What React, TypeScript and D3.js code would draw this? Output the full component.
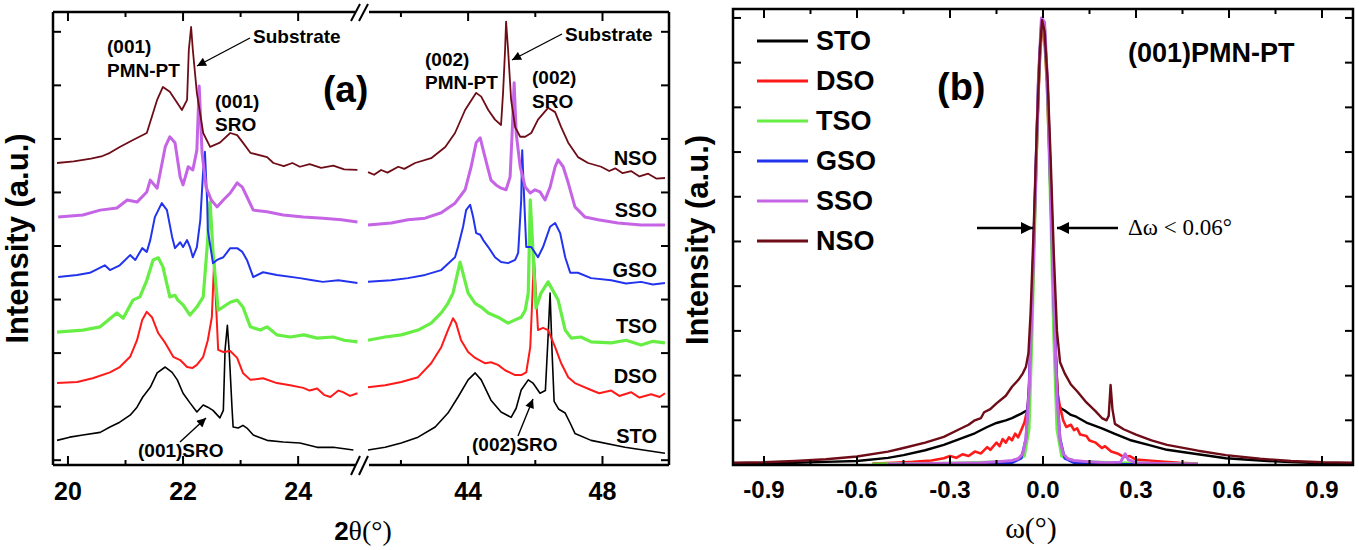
import React from "react";
import * as d3 from "d3";

type Pt = [number, number];

// sample order as in the legend
const samples = ["STO", "DSO", "TSO", "GSO", "SSO", "NSO"];
const colors: Record<string, string> = {
  STO: "#000000",
  DSO: "#ff1a1a",
  TSO: "#66ee44",
  GSO: "#2233ee",
  SSO: "#c565e6",
  NSO: "#6e0d17",
};
const widthsA: Record<string, number> = { STO: 1.6, DSO: 2, TSO: 3.2, GSO: 2, SSO: 3, NSO: 1.8 };
const widthsB: Record<string, number> = { STO: 2.4, DSO: 2.6, TSO: 3, GSO: 2.6, SSO: 3, NSO: 2.4 };

// ---- panel (a): 2theta scans, stacked, (001) range ----
const stoLow: Pt[] = [[19.81,0.37],[20.03,0.43],[20.26,0.47],[20.56,0.52],[20.73,0.62],[20.90,0.71],[21.08,0.84],[21.20,0.99],[21.30,1.18],[21.43,1.36],[21.55,1.63],[21.69,1.74],[21.81,1.64],[21.90,1.50],[22.00,1.25],[22.12,1.07],[22.24,0.90],[22.35,1.03],[22.43,0.99],[22.52,0.93],[22.64,0.79],[22.70,0.93],[22.73,2.06],[22.77,2.52],[22.80,2.06],[22.85,0.99],[22.87,0.62],[22.96,0.60],[23.04,0.65],[23.11,0.60],[23.22,0.47],[23.46,0.37],[23.74,0.34],[24.03,0.32],[24.33,0.24],[24.61,0.24],[24.96,0.19]];
const dsoLow: Pt[] = [[19.81,1.44],[20.16,1.46],[20.43,1.53],[20.73,1.64],[20.90,1.74],[21.08,1.93],[21.20,2.24],[21.29,2.62],[21.37,2.77],[21.46,2.67],[21.57,2.37],[21.69,2.19],[21.83,1.93],[21.95,1.87],[22.07,1.74],[22.16,1.72],[22.24,1.78],[22.35,1.93],[22.43,2.24],[22.50,2.67],[22.54,3.70],[22.57,2.99],[22.61,2.06],[22.70,2.02],[22.82,2.04],[22.94,1.91],[23.04,1.63],[23.17,1.50],[23.39,1.53],[23.63,1.44],[23.86,1.40],[24.09,1.35],[24.20,1.30],[24.33,1.34],[24.45,1.22],[24.56,1.18],[24.70,1.30],[24.78,1.27],[24.90,1.20],[25.03,1.25]];
const tsoLow: Pt[] = [[19.81,2.39],[20.26,2.43],[20.56,2.49],[20.85,2.75],[20.96,2.65],[21.13,2.99],[21.25,3.05],[21.37,3.36],[21.48,3.74],[21.57,3.78],[21.65,3.61],[21.77,3.05],[21.86,3.08],[21.91,2.99],[22.00,2.90],[22.12,2.71],[22.24,2.86],[22.35,3.05],[22.42,4.0],[22.47,4.82],[22.52,3.9],[22.61,2.80],[22.82,2.95],[22.94,2.99],[23.04,2.86],[23.17,2.49],[23.34,2.43],[23.46,2.49],[23.63,2.34],[23.86,2.30],[24.10,2.34],[24.33,2.28],[24.61,2.30],[24.80,2.24],[25.03,2.21]];
const gsoLow: Pt[] = [[19.83,3.42],[20.16,3.46],[20.38,3.50],[20.64,3.64],[20.73,3.55],[20.90,3.64],[21.08,3.83],[21.17,3.74],[21.29,3.96],[21.37,3.89],[21.43,4.11],[21.51,4.54],[21.63,4.80],[21.72,4.67],[21.81,4.17],[21.86,3.96],[21.95,4.07],[22.00,3.98],[22.07,4.11],[22.12,3.98],[22.17,3.79],[22.24,3.98],[22.30,4.49],[22.35,5.42],[22.38,5.76],[22.42,4.80],[22.43,4.30],[22.52,3.68],[22.59,3.74],[22.70,3.79],[22.82,3.96],[22.94,3.96],[23.03,3.89],[23.11,3.74],[23.22,3.42],[23.39,3.51],[23.63,3.46],[24.03,3.40],[24.25,3.36],[24.43,3.33],[24.70,3.36],[25.03,3.31]];
const ssoLow: Pt[] = [[19.83,4.54],[20.26,4.58],[20.56,4.67],[20.85,4.71],[21.03,4.86],[21.20,4.82],[21.37,5.01],[21.43,5.23],[21.55,5.08],[21.69,5.85],[21.77,6.04],[21.86,5.93],[21.95,5.29],[22.00,5.14],[22.09,5.48],[22.17,5.42],[22.24,5.79],[22.28,6.99],[22.33,5.74],[22.40,5.10],[22.49,4.86],[22.59,4.73],[22.70,4.86],[22.82,4.99],[22.94,5.18],[23.03,5.10],[23.11,4.92],[23.22,4.67],[23.46,4.64],[23.74,4.58],[24.09,4.54],[24.43,4.52],[24.75,4.49],[25.03,4.45]];
const nsoLow: Pt[] = [[19.81,5.55],[20.10,5.58],[20.40,5.63],[20.60,5.68],[20.73,5.74],[20.90,5.85],[21.13,5.98],[21.37,6.11],[21.55,6.73],[21.65,6.97],[21.77,6.88],[21.90,6.67],[21.98,6.54],[22.07,6.73],[22.10,7.66],[22.14,8.09],[22.17,7.66],[22.24,6.86],[22.35,6.11],[22.47,5.85],[22.64,5.93],[22.82,6.11],[22.94,6.07],[23.04,5.93],[23.17,5.74],[23.46,5.66],[23.57,5.55],[23.75,5.49],[23.90,5.55],[24.03,5.48],[24.20,5.53],[24.40,5.46],[24.61,5.50],[24.80,5.43],[25.03,5.42]];

// ---- panel (a): (002) range ----
const stoHigh: Pt[] = [[41.02,0.19],[41.53,0.24],[42.01,0.32],[42.51,0.43],[43.02,0.62],[43.40,0.88],[43.70,1.18],[44.00,1.50],[44.21,1.63],[44.39,1.50],[44.68,1.12],[44.98,0.90],[45.28,0.80],[45.43,0.97],[45.58,1.31],[45.79,1.50],[45.93,1.44],[46.14,1.25],[46.30,1.30],[46.38,2.30],[46.44,3.12],[46.50,2.00],[46.56,1.10],[46.70,0.95],[46.89,0.88],[47.04,0.69],[47.18,0.50],[47.66,0.37],[48.67,0.24],[49.86,0.13]];
const dsoHigh: Pt[] = [[41.02,1.36],[41.53,1.40],[42.01,1.46],[42.51,1.55],[42.90,1.81],[43.20,2.11],[43.40,2.43],[43.55,2.65],[43.64,2.56],[43.79,2.24],[44.00,2.02],[44.21,1.91],[44.51,1.81],[44.68,1.83],[44.89,1.78],[45.10,1.68],[45.40,1.59],[45.58,1.59],[45.73,1.64],[45.85,2.11],[45.90,2.86],[45.96,3.78],[46.08,2.43],[46.23,2.47],[46.38,2.43],[46.59,2.11],[46.77,1.81],[46.98,1.55],[47.18,1.44],[47.66,1.31],[47.90,1.25],[48.26,1.30],[48.50,1.20],[48.85,1.27],[49.10,1.17],[49.45,1.23],[49.70,1.18],[49.86,1.25]];
const tsoHigh: Pt[] = [[41.02,2.24],[41.53,2.30],[42.01,2.34],[42.51,2.43],[42.90,2.56],[43.20,2.75],[43.40,2.93],[43.55,3.12],[43.76,3.70],[44.00,3.12],[44.21,2.93],[44.39,2.86],[44.60,2.75],[44.89,2.67],[45.19,2.56],[45.40,2.62],[45.58,2.67],[45.70,2.80],[45.79,3.12],[45.85,4.86],[46.02,2.84],[46.17,3.12],[46.38,3.33],[46.68,2.99],[46.89,2.43],[47.07,2.28],[47.36,2.30],[47.66,2.21],[48.26,2.19],[48.70,2.24],[49.15,2.15],[49.50,2.22],[49.86,2.19]];
const gsoHigh: Pt[] = [[41.02,3.33],[41.71,3.36],[42.21,3.40],[42.72,3.46],[43.20,3.55],[43.61,3.79],[43.70,3.98],[43.85,4.36],[43.94,4.67],[44.06,4.77],[44.15,4.54],[44.24,4.24],[44.36,4.21],[44.45,4.11],[44.60,3.98],[44.80,3.79],[44.98,3.70],[45.19,3.68],[45.40,3.74],[45.49,3.87],[45.58,4.86],[45.61,5.79],[45.67,4.86],[45.73,3.98],[45.88,3.98],[46.08,3.79],[46.23,3.98],[46.44,4.36],[46.59,4.43],[46.74,4.24],[46.89,3.79],[47.04,3.50],[47.27,3.50],[47.66,3.40],[48.26,3.36],[48.70,3.30],[49.15,3.33],[49.50,3.28],[49.86,3.31]];
const ssoHigh: Pt[] = [[41.02,4.39],[41.71,4.43],[42.21,4.49],[42.72,4.52],[43.20,4.62],[43.61,4.80],[43.91,5.05],[44.09,5.48],[44.24,5.93],[44.36,6.02],[44.45,5.79],[44.60,5.42],[44.68,5.23],[44.83,5.14],[44.98,5.08],[45.13,5.05],[45.25,5.29],[45.31,6.11],[45.37,7.05],[45.43,6.11],[45.55,5.48],[45.70,5.10],[45.85,4.99],[45.99,5.05],[46.14,5.01],[46.29,4.86],[46.44,5.10],[46.59,5.48],[46.68,5.61],[46.83,5.48],[46.98,5.18],[47.18,4.73],[47.48,4.54],[47.87,4.49],[48.46,4.43],[49.15,4.39],[49.86,4.39]];
const nsoHigh: Pt[] = [[41.02,5.38],[41.20,5.33],[41.41,5.42],[41.60,5.37],[41.92,5.48],[42.10,5.44],[42.42,5.55],[42.90,5.64],[43.32,5.85],[43.61,6.11],[43.91,6.54],[44.24,6.86],[44.39,6.79],[44.60,6.54],[44.80,6.36],[44.98,6.26],[45.04,6.86],[45.10,7.66],[45.13,8.19],[45.19,7.66],[45.28,6.73],[45.40,6.22],[45.55,6.04],[45.70,6.04],[45.88,6.11],[46.08,6.36],[46.38,6.58],[46.59,6.50],[46.77,6.22],[46.98,5.93],[47.27,5.66],[47.57,5.55],[47.96,5.48],[48.20,5.40],[48.38,5.45],[48.60,5.36],[48.85,5.40],[49.10,5.30],[49.36,5.35],[49.60,5.26],[49.86,5.27]];

const lowScans: Record<string, Pt[]> = { STO: stoLow, DSO: dsoLow, TSO: tsoLow, GSO: gsoLow, SSO: ssoLow, NSO: nsoLow };
const highScans: Record<string, Pt[]> = { STO: stoHigh, DSO: dsoHigh, TSO: tsoHigh, GSO: gsoHigh, SSO: ssoHigh, NSO: nsoHigh };
// height (same units) at which each sample name sits, at the right edge
const labelLevel: Record<string, number> = { STO: 0.32, DSO: 1.44, TSO: 2.37, GSO: 3.42, SSO: 4.54, NSO: 5.51 };

// ---- panel (b): rocking curves ----
const stoRock: Pt[] = [[-1.0,0.02],[-0.9,0.03],[-0.8,0.05],[-0.7,0.07],[-0.6,0.09],[-0.5,0.16],[-0.45,0.22],[-0.38,0.33],[-0.32,0.45],[-0.27,0.58],[-0.22,0.71],[-0.18,0.85],[-0.15,0.94],[-0.12,1.0],[-0.1,1.05],[-0.07,1.15],[-0.05,1.23],[-0.045,1.5],[-0.04,2.5],[-0.03,4.8],[-0.02,7.2],[-0.01,9.2],[-0.003,9.8],[0.005,9.6],[0.015,8.4],[0.025,6.4],[0.035,4.2],[0.043,2.2],[0.05,1.3],[0.07,1.22],[0.09,1.12],[0.107,1.08],[0.14,0.95],[0.19,0.82],[0.23,0.7],[0.28,0.56],[0.34,0.45],[0.4,0.34],[0.5,0.24],[0.59,0.15],[0.7,0.1],[0.78,0.07],[0.9,0.04],[1.0,0.03]];
const dsoRock: Pt[] = [[-0.55,0.03],[-0.48,0.05],[-0.42,0.07],[-0.36,0.1],[-0.32,0.15],[-0.3,0.2],[-0.28,0.16],[-0.26,0.24],[-0.24,0.2],[-0.22,0.3],[-0.2,0.26],[-0.18,0.4],[-0.17,0.34],[-0.15,0.5],[-0.14,0.42],[-0.13,0.58],[-0.12,0.5],[-0.11,0.62],[-0.1,0.55],[-0.09,0.7],[-0.08,0.62],[-0.07,0.78],[-0.06,0.95],[-0.05,1.25],[-0.045,1.7],[-0.04,2.6],[-0.03,4.8],[-0.02,7.1],[-0.012,8.8],[-0.004,9.75],[0.004,9.6],[0.012,8.6],[0.02,7.0],[0.03,4.8],[0.04,2.6],[0.047,1.6],[0.055,1.3],[0.065,1.0],[0.075,0.85],[0.09,0.9],[0.1,0.78],[0.11,0.82],[0.12,0.68],[0.14,0.65],[0.15,0.55],[0.17,0.5],[0.19,0.38],[0.2,0.42],[0.22,0.3],[0.24,0.26],[0.26,0.18],[0.28,0.2],[0.3,0.12],[0.34,0.1],[0.38,0.08],[0.44,0.05],[0.5,0.03]];
const tsoRock: Pt[] = [[-0.55,0.02],[-0.5,0.03],[-0.3,0.04],[-0.1,0.08],[-0.06,0.2],[-0.045,0.8],[-0.035,3.0],[-0.025,5.8],[-0.015,8.5],[-0.005,9.9],[0.005,9.8],[0.015,8.3],[0.025,5.6],[0.035,2.8],[0.045,0.8],[0.06,0.2],[0.1,0.08],[0.3,0.04],[0.5,0.02]];
const gsoRock: Pt[] = [[-0.45,0.01],[-0.2,0.02],[-0.1,0.05],[-0.07,0.15],[-0.055,0.6],[-0.045,1.8],[-0.035,3.8],[-0.025,6.2],[-0.015,8.6],[-0.005,9.9],[0.005,9.8],[0.015,8.4],[0.025,6.0],[0.035,3.6],[0.045,1.7],[0.055,0.6],[0.07,0.15],[0.1,0.05],[0.2,0.02],[0.5,0.01]];
const ssoRock: Pt[] = [[-0.5,0.02],[-0.4,0.03],[-0.3,0.04],[-0.2,0.05],[-0.15,0.07],[-0.1,0.1],[-0.08,0.14],[-0.065,0.25],[-0.055,0.6],[-0.045,1.6],[-0.035,3.6],[-0.025,6.0],[-0.015,8.6],[-0.005,10.0],[0.005,9.9],[0.015,8.5],[0.025,6.0],[0.035,3.6],[0.045,1.5],[0.055,0.55],[0.065,0.25],[0.08,0.14],[0.1,0.1],[0.15,0.07],[0.2,0.05],[0.25,0.06],[0.265,0.25],[0.275,0.12],[0.3,0.05],[0.4,0.03],[0.5,0.02]];
const nsoRock: Pt[] = [[-1.0,0.05],[-0.9,0.06],[-0.8,0.09],[-0.7,0.13],[-0.6,0.19],[-0.5,0.3],[-0.45,0.38],[-0.38,0.5],[-0.32,0.63],[-0.27,0.8],[-0.24,0.9],[-0.22,1.0],[-0.2,1.05],[-0.19,1.18],[-0.17,1.25],[-0.15,1.38],[-0.12,1.55],[-0.1,1.75],[-0.08,1.9],[-0.065,2.05],[-0.055,2.2],[-0.047,2.5],[-0.04,3.4],[-0.03,5.3],[-0.02,7.5],[-0.01,9.3],[-0.003,9.95],[0.005,9.7],[0.015,8.6],[0.025,6.8],[0.035,4.7],[0.045,3.0],[0.055,2.3],[0.07,2.05],[0.09,1.8],[0.11,1.65],[0.14,1.4],[0.17,1.2],[0.19,1.05],[0.205,1.0],[0.212,1.1],[0.218,1.79],[0.224,1.25],[0.232,0.92],[0.26,0.8],[0.3,0.68],[0.35,0.55],[0.4,0.45],[0.5,0.32],[0.59,0.22],[0.7,0.14],[0.8,0.09],[0.9,0.06],[1.0,0.05]];
const rocking: Record<string, Pt[]> = { STO: stoRock, DSO: dsoRock, TSO: tsoRock, GSO: gsoRock, SSO: ssoRock, NSO: nsoRock };

// tick values
const lowMajor = [20, 22, 24];
const lowMinor = [21, 23];
const highMajor = [44, 48];
const highMinor = [42, 46];
const yTicksA = [0, 1, 2, 3, 4, 5, 6, 7, 8];
const omegaMajor = [-0.9, -0.6, -0.3, 0, 0.3, 0.6, 0.9];
const omegaMinor = [-0.75, -0.45, -0.15, 0.15, 0.45, 0.75];
const yTicksB = [0, 1, 2, 3, 4, 5, 6, 7, 8, 9, 10];

const SANS = "'Liberation Sans', Arial, Helvetica, sans-serif";
const SERIF = "'Liberation Serif', 'Times New Roman', serif";

export default function App() {
  // panel a geometry
  const aL = 53, aR = 669, aT = 12, aB = 465, brk0 = 355, brk1 = 369;
  const xLow = d3.scaleLinear().domain([19.74, 25.04]).range([aL, 358]);
  const xHigh = d3.scaleLinear().domain([40.96, 49.98]).range([366, aR]);
  const yA = d3.scaleLinear().domain([-0.09, 8.37]).range([aB, aT]);

  // panel b geometry
  const bL = 733, bR = 1353, bT = 9, bB = 465;
  const xB = d3.scaleLinear().domain([-1, 1]).range([bL, bR]);
  const yB = d3.scaleLinear().domain([0, 10.2]).range([bB, bT]);

  const lineLow = d3.line<Pt>().x((d) => xLow(d[0])).y((d) => yA(d[1]));
  const lineHigh = d3.line<Pt>().x((d) => xHigh(d[0])).y((d) => yA(d[1]));
  const lineB = d3.line<Pt>().x((d) => xB(d[0])).y((d) => yB(d[1]));

  const tickStyle = { stroke: "#000", strokeWidth: 2 };
  const fs = 19;

  return (
    <svg width={1359} height={550} style={{ position: "absolute", left: 0, top: 0, background: "#fff" }}>
      <defs>
        <marker id="ah" viewBox="0 0 10 10" refX="10" refY="5" markerWidth="11" markerHeight="9" markerUnits="userSpaceOnUse" orient="auto">
          <path d="M0,0 L10,5 L0,10 z" fill="#000" />
        </marker>
        <marker id="ahBig" viewBox="0 0 10 10" refX="10" refY="5" markerWidth="15" markerHeight="12" markerUnits="userSpaceOnUse" orient="auto">
          <path d="M0,0 L10,5 L0,10 z" fill="#000" />
        </marker>
      </defs>

      {/* ================= panel (a) ================= */}
      <g>
        {samples.map((s) => (
          <g key={"a" + s} fill="none" stroke={colors[s]} strokeWidth={widthsA[s]} strokeLinejoin="round">
            <path d={lineLow(lowScans[s]) || ""} />
            <path d={lineHigh(highScans[s]) || ""} />
          </g>
        ))}

        {/* frame with axis break */}
        <g stroke="#000" strokeWidth={2.5} fill="none">
          <line x1={aL} y1={aT} x2={aL} y2={aB} />
          <line x1={aR} y1={aT} x2={aR} y2={aB} />
          <line x1={aL} y1={aT} x2={brk0} y2={aT} />
          <line x1={brk1} y1={aT} x2={aR} y2={aT} />
          <line x1={aL} y1={aB} x2={brk0} y2={aB} />
          <line x1={brk1} y1={aB} x2={aR} y2={aB} />
          <line x1={351} y1={21} x2={360} y2={4} strokeWidth={2} />
          <line x1={359} y1={21} x2={368} y2={4} strokeWidth={2} />
          <line x1={351} y1={475} x2={360} y2={456} strokeWidth={2} />
          <line x1={359} y1={475} x2={368} y2={456} strokeWidth={2} />
        </g>

        {/* x ticks */}
        {lowMajor.map((t) => (
          <g key={"lm" + t}>
            <line x1={xLow(t)} x2={xLow(t)} y1={aB} y2={aB - 9} {...tickStyle} />
            <line x1={xLow(t)} x2={xLow(t)} y1={aT} y2={aT + 9} {...tickStyle} />
            <text x={xLow(t)} y={500} textAnchor="middle" fontFamily={SANS} fontWeight="bold" fontSize={25}>{t}</text>
          </g>
        ))}
        {lowMinor.map((t) => (
          <g key={"ln" + t}>
            <line x1={xLow(t)} x2={xLow(t)} y1={aB} y2={aB - 5} {...tickStyle} />
            <line x1={xLow(t)} x2={xLow(t)} y1={aT} y2={aT + 5} {...tickStyle} />
          </g>
        ))}
        {highMajor.map((t) => (
          <g key={"hm" + t}>
            <line x1={xHigh(t)} x2={xHigh(t)} y1={aB} y2={aB - 9} {...tickStyle} />
            <line x1={xHigh(t)} x2={xHigh(t)} y1={aT} y2={aT + 9} {...tickStyle} />
            <text x={xHigh(t)} y={500} textAnchor="middle" fontFamily={SANS} fontWeight="bold" fontSize={25}>{t}</text>
          </g>
        ))}
        {highMinor.map((t) => (
          <g key={"hn" + t}>
            <line x1={xHigh(t)} x2={xHigh(t)} y1={aB} y2={aB - 5} {...tickStyle} />
            <line x1={xHigh(t)} x2={xHigh(t)} y1={aT} y2={aT + 5} {...tickStyle} />
          </g>
        ))}
        {yTicksA.map((t) => (
          <g key={"ya" + t}>
            <line x1={aL} x2={aL + 8} y1={yA(t)} y2={yA(t)} {...tickStyle} />
            <line x1={aR} x2={aR - 8} y1={yA(t)} y2={yA(t)} {...tickStyle} />
          </g>
        ))}

        {/* axis titles */}
        <text x={363} y={540} textAnchor="middle" fontSize={28}>
          <tspan fontFamily={SANS} fontWeight="bold" fontSize={26}>2</tspan>
          <tspan fontFamily={SERIF}>θ(°)</tspan>
        </text>
        <text transform={`translate(28,${(aT + aB) / 2}) rotate(-90)`} textAnchor="middle" fontFamily={SANS} fontWeight="bold" fontSize={31}>
          Intensity (a.u.)
        </text>

        {/* annotations */}
        <g fontFamily={SANS} fontWeight="bold" fontSize={fs} fill="#000">
          <text x={107} y={53}>(001)</text>
          <text x={107} y={77}>PMN-PT</text>
          <text x={253} y={43}>Substrate</text>
          <text x={215} y={108}>(001)</text>
          <text x={215} y={131}>SRO</text>
          <text x={425} y={66}>(002)</text>
          <text x={425} y={89}>PMN-PT</text>
          <text x={565} y={41}>Substrate</text>
          <text x={532} y={84}>(002)</text>
          <text x={532} y={108}>SRO</text>
          <text x={138} y={457}>(001)SRO</text>
          <text x={472} y={451}>(002)SRO</text>
          <text x={323} y={102} fontSize={37}>(a)</text>
          {samples.map((s) => (
            <text key={"lbl" + s} x={657} y={yA(labelLevel[s])} textAnchor="end" fontSize={20}>{s}</text>
          ))}
        </g>
        <g stroke="#000" strokeWidth={1.4} fill="none">
          <line x1={250} y1={38} x2={197} y2={66} markerEnd="url(#ah)" />
          <line x1={562} y1={34} x2={512} y2={60} markerEnd="url(#ah)" />
          <line x1={180} y1={442} x2={206} y2={418} markerEnd="url(#ah)" />
          <line x1={518} y1={436} x2={533} y2={399} markerEnd="url(#ah)" />
        </g>
      </g>

      {/* ================= panel (b) ================= */}
      <g>
        {samples.map((s) => (
          <path key={"b" + s} d={lineB(rocking[s]) || ""} fill="none" stroke={colors[s]} strokeWidth={widthsB[s]} strokeLinejoin="round" />
        ))}

        <rect x={bL} y={bT} width={bR - bL} height={bB - bT} fill="none" stroke="#000" strokeWidth={2.5} />

        {omegaMajor.map((t) => (
          <g key={"om" + t}>
            <line x1={xB(t)} x2={xB(t)} y1={bB} y2={bB - 9} {...tickStyle} />
            <line x1={xB(t)} x2={xB(t)} y1={bT} y2={bT + 9} {...tickStyle} />
            <text x={xB(t)} y={498} textAnchor="middle" fontFamily={SANS} fontWeight="bold" fontSize={24}>{t.toFixed(1)}</text>
          </g>
        ))}
        {omegaMinor.map((t) => (
          <g key={"on" + t}>
            <line x1={xB(t)} x2={xB(t)} y1={bB} y2={bB - 5} {...tickStyle} />
            <line x1={xB(t)} x2={xB(t)} y1={bT} y2={bT + 5} {...tickStyle} />
          </g>
        ))}
        {yTicksB.map((t) => (
          <g key={"yb" + t}>
            <line x1={bL} x2={bL + 8} y1={yB(t)} y2={yB(t)} {...tickStyle} />
            <line x1={bR} x2={bR - 8} y1={yB(t)} y2={yB(t)} {...tickStyle} />
          </g>
        ))}

        <text x={1031} y={538} textAnchor="middle" fontFamily={SERIF} fontSize={30}>ω(°)</text>
        <text transform={`translate(708,${(bT + bB) / 2 + 3}) rotate(-90)`} textAnchor="middle" fontFamily={SANS} fontWeight="bold" fontSize={31}>
          Intensity (a.u.)
        </text>

        {/* legend */}
        {samples.map((s, i) => (
          <g key={"lg" + s}>
            <line x1={757} x2={808} y1={41 + i * 40} y2={41 + i * 40} stroke={colors[s]} strokeWidth={3} />
            <text x={816} y={50 + i * 40} fontFamily={SANS} fontWeight="bold" fontSize={27}>{s}</text>
          </g>
        ))}

        <text x={937} y={100} fontFamily={SANS} fontWeight="bold" fontSize={38}>(b)</text>
        <text x={1128} y={62} fontFamily={SANS} fontWeight="bold" fontSize={27}>(001)PMN-PT</text>
        <text x={1128} y={235} fontFamily={SERIF} fontSize={23}>Δω &lt; 0.06°</text>
        <g stroke="#000" strokeWidth={2.5}>
          <line x1={977} y1={228} x2={1033} y2={228} markerEnd="url(#ahBig)" />
          <line x1={1118} y1={228} x2={1057} y2={228} markerEnd="url(#ahBig)" />
        </g>
      </g>
    </svg>
  );
}
